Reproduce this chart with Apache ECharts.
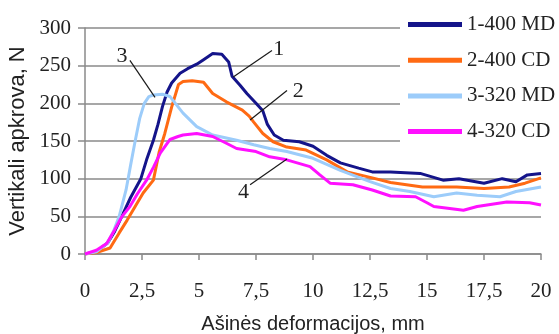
<!DOCTYPE html>
<html>
<head>
<meta charset="utf-8">
<script src="https://cdn.jsdelivr.net/npm/echarts@6/dist/echarts.min.js"></script>
<style>
  html, body { margin: 0; padding: 0; background: #fff; }
  #chart { width: 559px; height: 334px; }
</style>
</head>
<body>
<div id="chart"></div>
<script>
// Load–deformation curves, [deformation mm, load N]
const seriesNames = ['1-400 MD', '2-400 CD', '3-320 MD', '4-320 CD'];

const load1 = [[0,0],[0.5,3],[1,15],[1.3,30],[1.6,49],[2.0,75],[2.45,100],[2.7,125],[3.0,151],[3.2,172],[3.4,196],[3.6,215],[3.8,227],[4.17,240],[4.5,246],[4.9,252],[5.2,258],[5.6,266],[6.0,265],[6.3,255],[6.45,236],[6.8,224],[7.1,213],[7.5,200],[7.8,190],[8.0,172],[8.3,158],[8.7,151],[9.4,149],[10,143],[10.6,131],[11.2,121],[12.0,114],[12.6,109],[13.4,109],[14.7,107],[15.7,98],[16.4,100],[17.5,94],[18.3,100],[18.9,96],[19.4,105],[20,107]];

const load2 = [[0,0],[0.5,2],[1.1,8],[1.5,28],[1.85,45],[2.2,63],[2.55,81],[3.0,98],[3.25,135],[3.5,160],[3.8,195],[4.1,225],[4.3,229],[4.7,230],[5.2,228],[5.6,213],[6.2,202],[6.9,191],[7.2,183],[7.4,175],[7.8,160],[8.25,149],[8.85,142],[9.7,138],[10.6,125],[11.5,109],[12.6,101],[13.4,95],[14.8,89],[16.3,89],[17.5,87],[18.6,89],[19.3,94],[20,101]];

const load3 = [[0,0],[0.5,3],[1.0,15],[1.25,30],[1.5,50],[1.8,85],[2.0,118],[2.2,150],[2.4,180],[2.6,200],[2.8,209],[3.0,211],[3.4,212],[3.73,209],[4.3,187],[4.9,169],[5.6,158],[6.65,151],[7.4,145],[8.1,140],[8.85,136],[10,127],[11.2,111],[12.5,96],[13.4,87],[14.25,83],[15.3,76],[16.3,81],[17.2,78],[18.2,76],[18.9,83],[20,89]];

const load4 = [[0,0],[0.5,5],[0.95,14],[1.3,32],[1.6,49],[1.97,63],[2.3,80],[2.7,98],[3.0,115],[3.3,134],[3.73,152],[4.08,156],[4.3,158],[4.9,160],[5.6,156],[6.2,147],[6.65,140],[7.5,136],[8.1,129],[8.85,125],[9.87,116],[10.3,105],[10.75,94],[11.75,92],[12.6,85],[13.4,77],[14.5,76],[15.0,68],[15.3,63],[16.6,58],[17.2,63],[18.5,69],[19.5,68],[20,65]];

// Leader lines from curve to its number: [from, to] in data units
const leaderLines = [
  [[6.5, 235], [8.2, 270]],
  [[7.24, 178], [8.86, 217]],
  [[3.07, 208], [1.97, 257]],
  [[8.86, 126], [7.24, 92]]
];
const leaderLabels = ['1', '2', '3', '4'];
const leaderLabelPos = [[8.5, 272], [9.35, 216], [1.62, 263], [6.95, 82]];

const xTickLabels = ['0', '2,5', '5', '7,5', '10', '12,5', '15', '17,5', '20'];

const colors = ['#14148a', '#ff6a13', '#9cccfa', '#ff10ff'];
const serif = '"Liberation Serif", "Times New Roman", serif';
const sans = '"Liberation Sans", Arial, sans-serif';

const chart = echarts.init(document.getElementById('chart'), null, { renderer: 'canvas' });

const loads = [load1, load2, load3, load4];
const series = loads.map((d, i) => ({
  name: seriesNames[i],
  type: 'line',
  data: d,
  showSymbol: false,
  symbol: 'none',
  lineStyle: { color: colors[i], width: 3 },
  itemStyle: { color: colors[i] },
  z: 2
}));

// Leader lines and their numbers
series.push({
  name: 'leaders',
  type: 'line',
  data: [],
  symbol: 'none',
  silent: true,
  markLine: {
    silent: true,
    symbol: ['none', 'none'],
    lineStyle: { color: '#1a1a1a', width: 1.2, type: 'solid' },
    label: { show: false },
    data: leaderLines.map(l => [{ coord: l[0] }, { coord: l[1] }])
  },
  markPoint: {
    silent: true,
    symbol: 'circle',
    symbolSize: 0,
    label: {
      show: true,
      position: 'inside',
      fontFamily: serif,
      fontSize: 22,
      color: '#222'
    },
    data: leaderLabelPos.map((p, i) => ({ coord: p, value: leaderLabels[i], label: { formatter: leaderLabels[i] } }))
  },
  z: 5
});

chart.setOption({
  animation: false,
  backgroundColor: '#ffffff',
  grid: { left: 85, right: 18, top: 28, bottom: 80, containLabel: false, outerBoundsMode: 'none' },
  legend: {
    data: seriesNames,
    orient: 'vertical',
    left: 400,
    top: 4,
    padding: [10, 4, 10, 8],
    backgroundColor: '#ffffff',
    itemWidth: 54,
    itemHeight: 5,
    itemGap: 14.7,
    icon: 'rect',
    textStyle: { fontFamily: serif, fontSize: 21, color: '#222', lineHeight: 20, padding: [0, 0, 0, 0] }
  },
  xAxis: {
    type: 'value',
    min: 0,
    max: 20,
    interval: 2.5,
    name: 'Ašinės deformacijos, mm',
    nameLocation: 'middle',
    nameGap: 60,
    nameTextStyle: { fontFamily: sans, fontSize: 20, color: '#222' },
    axisLine: { show: true, lineStyle: { color: '#8a8a8a', width: 1.5 } },
    axisTick: { show: true, length: 6, lineStyle: { color: '#8a8a8a', width: 1.5 } },
    axisLabel: {
      margin: 27,
      fontFamily: serif,
      fontSize: 21,
      color: '#222',
      formatter: (v) => xTickLabels[Math.round(v / 2.5)]
    },
    splitLine: { show: false }
  },
  yAxis: {
    type: 'value',
    min: 0,
    max: 300,
    interval: 50,
    name: 'Vertikali apkrova, N',
    nameLocation: 'middle',
    nameGap: 52,
    nameRotate: 90,
    nameTextStyle: { fontFamily: sans, fontSize: 22, color: '#222' },
    axisLine: { show: true, lineStyle: { color: '#8a8a8a', width: 1.5 } },
    axisTick: { show: true, length: 7, lineStyle: { color: '#8a8a8a', width: 1.5 } },
    axisLabel: { margin: 14, fontFamily: serif, fontSize: 21, color: '#222' },
    splitLine: { show: true, lineStyle: { color: '#8a8a8a', width: 1.5 } }
  },
  series: series
});
</script>
</body>
</html>
